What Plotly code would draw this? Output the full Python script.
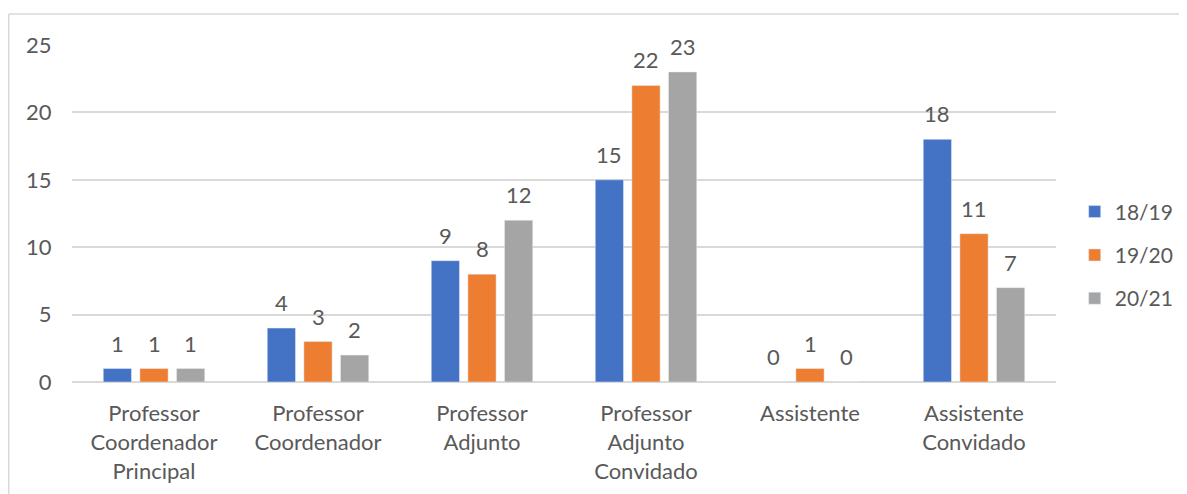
import plotly.graph_objects as go

categories = ["Professor<br>Coordenador<br>Principal", "Professor<br>Coordenador",
              "Professor<br>Adjunto", "Professor<br>Adjunto<br>Convidado",
              "Assistente", "Assistente<br>Convidado"]
series_names = ["18/19", "19/20", "20/21"]
v_1819 = [1, 4, 9, 15, 0, 18]
v_1920 = [1, 3, 8, 22, 1, 11]
v_2021 = [1, 2, 12, 23, 0, 7]
colors = ["#4472C4", "#ED7D31", "#A5A5A5"]

FONT = "Lato"
TXT = "#595959"
FS = 22
W, H = 1187, 494
ML, MR, MT, MB = 64, 139, 37, 120
BARGAP, BARGROUPGAP = 0.33, 0.23

fig = go.Figure()
all_vals = [v_1819, v_1920, v_2021]
for i, (name, vals) in enumerate(zip(series_names, all_vals)):
    fig.add_trace(go.Bar(
        x=categories, y=vals, name=name, marker_color=colors[i],
        legendgroup=name,
    ))

# data labels: annotations anchored at each bar's value, shifted to the bar's slot
plot_w = W - ML - MR
slot = plot_w / len(categories) * (1 - BARGAP) / len(series_names)
annotations = []
for i, vals in enumerate(all_vals):
    for c, v in zip(categories, vals):
        annotations.append(dict(
            x=c, y=v, xref="x", yref="y", text=str(v), showarrow=False,
            xanchor="center", yanchor="bottom",
            xshift=(i - 1) * slot, yshift=10,
            font=dict(family=FONT, size=FS, color=TXT),
        ))

# page body has an 8px margin, so the figure is drawn at (8, 8)
fig.update_layout(
    width=W, height=H,
    paper_bgcolor="white", plot_bgcolor="white",
    margin=dict(l=ML, r=MR, t=MT, b=MB, autoexpand=False),
    barmode="group", bargap=BARGAP, bargroupgap=BARGROUPGAP,
    font=dict(family=FONT, size=FS, color=TXT),
    showlegend=True,
    legend=dict(x=1.019, y=0.377, xanchor="left", yanchor="middle",
                font=dict(family=FONT, size=21, color=TXT),
                tracegroupgap=13, itemwidth=30),
    xaxis=dict(showgrid=False, showline=False, ticks="outside", ticklen=12,
               tickcolor="rgba(0,0,0,0)", tickfont=dict(family=FONT, size=FS, color=TXT)),
    yaxis=dict(range=[0, 25], dtick=5, showgrid=True, gridcolor="#D9D9D9", gridwidth=1.5,
               zeroline=True, zerolinecolor="#D9D9D9", zerolinewidth=1.5,
               ticks="outside", ticklen=15, tickcolor="rgba(0,0,0,0)",
               tickfont=dict(family=FONT, size=FS, color=TXT)),
    annotations=annotations,
    shapes=[
        dict(type="line", xref="paper", yref="paper", x0=-0.0643, x1=1.2, y0=1.092, y1=1.092,
             line=dict(color="#D9D9D9", width=1.5)),
        dict(type="line", xref="paper", yref="paper", x0=-0.0643, x1=-0.0643, y0=1.092, y1=-0.4,
             line=dict(color="#D9D9D9", width=1.5)),
    ],
)
fig.write_html("out.html")
